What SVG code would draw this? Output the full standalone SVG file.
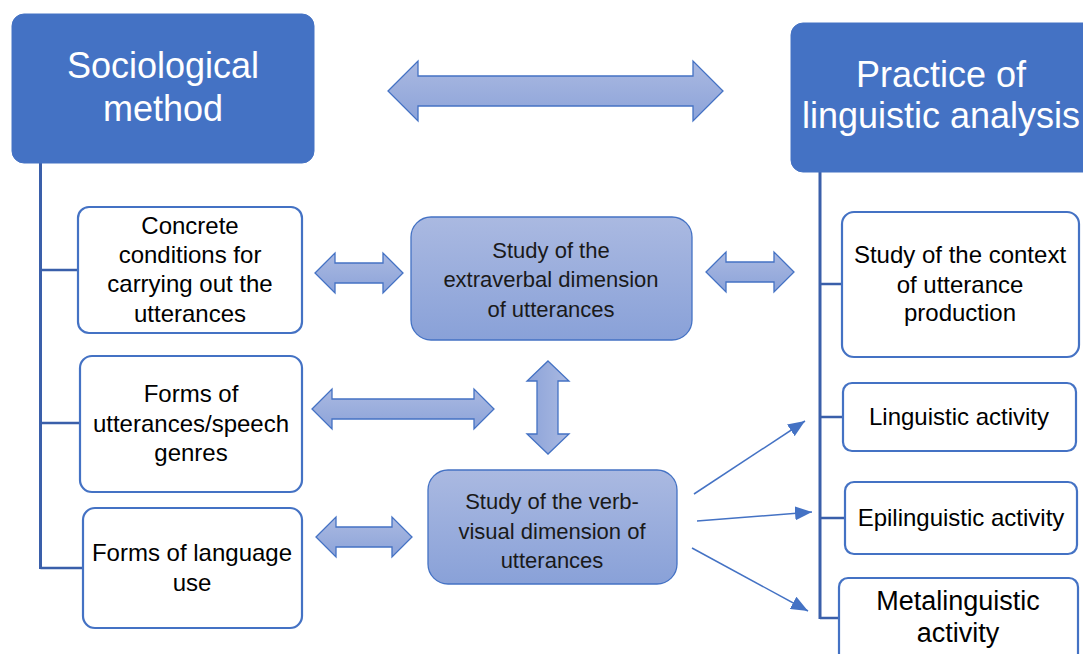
<svg xmlns="http://www.w3.org/2000/svg" width="1083" height="654" viewBox="0 0 1083 654">
<style>
  .hdr { fill: #4472C4; stroke: #4472C4; stroke-width: 1; }
  .hdrtxt { font-family: "Liberation Sans", Arial, sans-serif; font-size: 36px; fill: #FFFFFF; text-anchor: middle; }
  .box { fill: #FFFFFF; stroke: #4472C4; stroke-width: 2.2; }
  .txt { font-family: "Liberation Sans", Arial, sans-serif; font-size: 24px; fill: #000000; text-anchor: middle; }
  .mid { fill: url(#gMid); stroke: #4472C4; stroke-width: 1.3; }
  .midtxt { font-family: "Liberation Sans", Arial, sans-serif; font-size: 22px; fill: #1A1A1A; text-anchor: middle; }
  .trunk { stroke: #3A5FAA; stroke-width: 3; fill: none; }
  .branch { stroke: #3A5FAA; stroke-width: 2.5; fill: none; }
  .blk { fill: url(#gArrow); stroke: #4472C4; stroke-width: 1.3; stroke-linejoin: miter; }
  .blkv { fill: url(#gArrowV); stroke: #4472C4; stroke-width: 1.3; }
  .diag { stroke: #4472C4; stroke-width: 1.5; fill: none; marker-end: url(#tri); }
</style>
<defs>
  <linearGradient id="gMid" x1="0" y1="0" x2="0" y2="1">
    <stop offset="0" stop-color="#AAB9E1"/>
    <stop offset="1" stop-color="#89A1D8"/>
  </linearGradient>
  <linearGradient id="gArrow" x1="0" y1="0" x2="0" y2="1">
    <stop offset="0" stop-color="#AAB9E1"/>
    <stop offset="1" stop-color="#8CA3D9"/>
  </linearGradient>
  <linearGradient id="gArrowV" x1="0" y1="0" x2="1" y2="0">
    <stop offset="0" stop-color="#8CA3D9"/>
    <stop offset="1" stop-color="#AAB9E1"/>
  </linearGradient>
  <marker id="tri" markerUnits="userSpaceOnUse" markerWidth="18" markerHeight="14" refX="17" refY="7" orient="auto">
    <path d="M0,0 L17,7 L0,14 Z" fill="#4472C4"/>
  </marker>
</defs>

<g id="connectors">
  <path class="trunk" d="M40.5,163 V569"/>
  <path class="branch" d="M40.5,270 H78 M40.5,423 H80 M40.5,568 H83"/>
  <path class="trunk" d="M820,172 V619"/>
  <path class="branch" d="M820,284 H842 M820,417 H843 M820,518 H845 M820,618 H839"/>
  <line class="diag" x1="694" y1="494" x2="805" y2="421"/>
  <line class="diag" x1="697" y1="521" x2="812" y2="512"/>
  <line class="diag" x1="692" y1="548" x2="808" y2="611"/>
  <g id="block-arrows">
    <path class="blk" d="M388,91 L418,61 L418,76 L693,76 L693,61 L723,91 L693,121 L693,106 L418,106 L418,121 Z"/>
    <path class="blk" d="M315,273 L335,253 L335,263 L383,263 L383,253 L403,273 L383,293 L383,283 L335,283 L335,293 Z"/>
    <path class="blk" d="M706,272 L726,252 L726,262 L774,262 L774,252 L794,272 L774,292 L774,282 L726,282 L726,292 Z"/>
    <path class="blk" d="M312,409 L332,389 L332,399 L474,399 L474,389 L494,409 L474,429 L474,419 L332,419 L332,429 Z"/>
    <path class="blk" d="M316,537 L336,517 L336,527 L392,527 L392,517 L412,537 L392,557 L392,547 L336,547 L336,557 Z"/>
    <path class="blkv" d="M548,361 L569,381 L558,381 L558,434 L569,434 L548,454 L527,434 L537,434 L537,381 L527,381 Z"/>
  </g>
</g>

<g id="sociological-method">
  <rect class="hdr" x="12" y="14" width="302" height="149" rx="12"/>
  <text class="hdrtxt" x="163" y="78">Sociological</text>
  <text class="hdrtxt" x="163" y="121">method</text>
</g>

<g id="practice-linguistic-analysis">
  <rect class="hdr" x="791" y="23" width="310" height="149" rx="12"/>
  <text class="hdrtxt" x="941" y="87">Practice of</text>
  <text class="hdrtxt" x="941" y="128">linguistic analysis</text>
</g>

<g id="concrete-conditions">
  <rect class="box" x="78" y="207" width="224" height="126" rx="11"/>
  <text class="txt" x="190" y="234">Concrete</text>
  <text class="txt" x="190" y="263">conditions for</text>
  <text class="txt" x="190" y="292">carrying out the</text>
  <text class="txt" x="190" y="322">utterances</text>
</g>

<g id="forms-of-utterances">
  <rect class="box" x="80" y="356" width="222" height="136" rx="12"/>
  <text class="txt" x="191" y="402">Forms of</text>
  <text class="txt" x="191" y="432">utterances/speech</text>
  <text class="txt" x="191" y="461">genres</text>
</g>

<g id="forms-of-language-use">
  <rect class="box" x="83" y="508" width="219" height="120" rx="12"/>
  <text class="txt" x="192" y="561">Forms of language</text>
  <text class="txt" x="192" y="591">use</text>
</g>

<g id="extraverbal-dimension">
  <rect class="mid" x="411" y="217" width="281" height="123" rx="20"/>
  <text class="midtxt" x="551" y="258">Study of the</text>
  <text class="midtxt" x="551" y="287">extraverbal dimension</text>
  <text class="midtxt" x="551" y="317">of utterances</text>
</g>

<g id="verb-visual-dimension">
  <rect class="mid" x="428" y="470" width="249" height="114" rx="20"/>
  <text class="midtxt" x="552" y="509">Study of the verb-</text>
  <text class="midtxt" x="552" y="539">visual dimension of</text>
  <text class="midtxt" x="552" y="568">utterances</text>
</g>

<g id="context-of-production">
  <rect class="box" x="842" y="212" width="237" height="145" rx="12"/>
  <text class="txt" x="960" y="263">Study of the context</text>
  <text class="txt" x="960" y="293">of utterance</text>
  <text class="txt" x="960" y="321">production</text>
</g>

<g id="linguistic-activity">
  <rect class="box" x="843" y="383" width="233" height="68" rx="9"/>
  <text class="txt" x="959" y="425">Linguistic activity</text>
</g>

<g id="epilinguistic-activity">
  <rect class="box" x="845" y="482" width="232" height="72" rx="9"/>
  <text class="txt" x="961" y="526">Epilinguistic activity</text>
</g>

<g id="metalinguistic-activity">
  <rect class="box" x="839" y="578" width="239" height="90" rx="9"/>
  <text class="txt" x="958" y="610" style="font-size:27px">Metalinguistic</text>
  <text class="txt" x="958" y="642" style="font-size:27px">activity</text>
</g>
</svg>
